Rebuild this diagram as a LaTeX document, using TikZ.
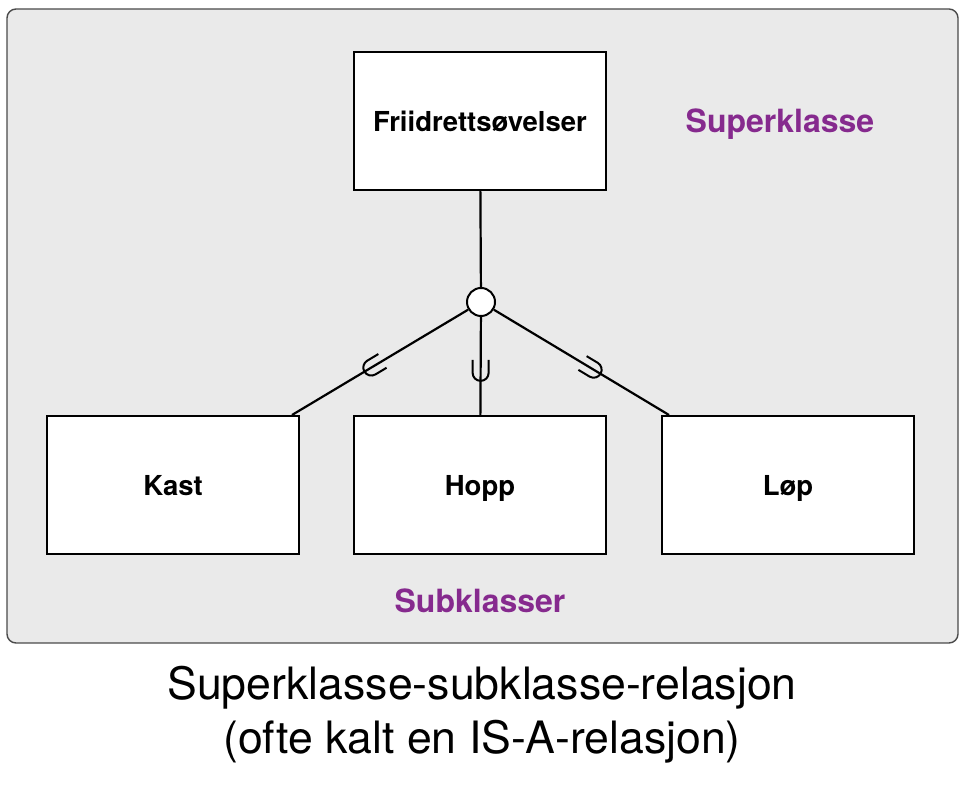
\documentclass[tikz,border=0pt]{standalone}
\usepackage{fontspec}
\setmainfont{TeX Gyre Heros}
\usetikzlibrary{decorations.markings}
\definecolor{bakgrunn}{HTML}{EAEAEA}
\definecolor{ramme}{HTML}{4A4A4A}
\definecolor{lilla}{HTML}{862A8E}
\tikzset{
  klasse/.style={draw=black,fill=white,line width=2pt,minimum width=252pt,minimum height=138pt,text height=22pt,text depth=0pt,font=\fontsize{27.5}{33}\selectfont\bfseries},
  isa/.style={circle,draw=black,fill=white,line width=2pt,minimum size=28pt,inner sep=0pt},
  rolle/.style={text=lilla,font=\fontsize{32}{38}\selectfont\bfseries},
  tittel/.style={align=center,font=\fontsize{44.6}{54}\selectfont},
  linje/.style={line width=2.2pt},
  delmengde/.style={postaction={decorate,decoration={markings,mark=at position #1 with {\draw[line width=2pt] (11pt,-8pt) -- (-2pt,-8pt) arc[start angle=270,end angle=90,radius=8pt] -- (11pt,8pt);}}}}
}
\begin{document}
\begin{tikzpicture}[x=1pt,y=1pt]
  \useasboundingbox (0,0) rectangle (968,786);
  \draw[fill=bakgrunn,draw=ramme,line width=1.4pt,rounded corners=9pt] (7,143) rectangle (958,777);
  \node[klasse] (friidrett) at (480,665) {Friidrettsøvelser};
  \node[isa] (isa) at (481,484) {};
  \node[klasse] (kast) at (173,301) {Kast};
  \node[klasse] (hopp) at (480,301) {Hopp};
  \node[klasse] (lop) at (788,301) {Løp};
  \node[rolle] (super) at (780,662) {Superklasse};
  \node[rolle] (sub) at (480,185) {Subklasser};
  \node[tittel] (tittel) at (482,71) {Superklasse-subklasse-relasjon\\(ofte kalt en IS-A-relasjon)};
  % linjer til isa-sirkelen
  \draw[linje] (friidrett) -- (isa);
  \draw[linje,delmengde=0.46] ([xshift=-8pt]kast.north east) -- (isa);
  \draw[linje,delmengde=0.45] (hopp) -- (isa);
  \draw[linje,delmengde=0.44] ([xshift=8pt]lop.north west) -- (isa);
\end{tikzpicture}
\end{document}
